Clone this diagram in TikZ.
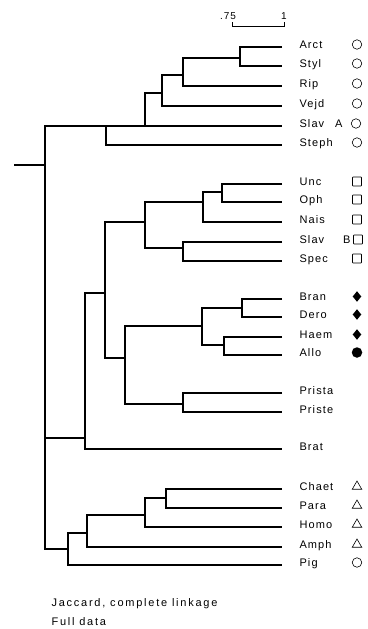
\documentclass[tikz,border=0pt]{standalone}
\usepackage{fontspec}
\setmainfont[LetterSpace=10]{Liberation Sans}
\newfontfamily\capfont[LetterSpace=16]{Liberation Sans}
\usetikzlibrary{shapes.geometric}
\begin{document}
\begin{tikzpicture}[x=1pt,y=-1pt,line width=1.1pt,
  lab/.style={anchor=base west,inner sep=0pt,font=\fontsize{11}{13}\selectfont},
  caplab/.style={anchor=base west,inner sep=0pt,font=\capfont\fontsize{11}{13}\selectfont},
  circ/.style={circle,draw,line width=0.6pt,minimum size=9.5pt,inner sep=0pt},
  sq/.style={rectangle,draw,line width=0.7pt,minimum size=9pt,inner sep=0pt,rounded corners=0.6pt},
  dia/.style={diamond,fill,minimum width=9pt,minimum height=11pt,inner sep=0pt},
  fdot/.style={circle,fill,minimum size=10.5pt,inner sep=0pt},
  tri/.style={regular polygon,regular polygon sides=3,draw,line width=0.6pt,minimum size=11pt,inner sep=0pt},
  scl/.style={anchor=center,inner sep=0pt,font=\fontsize{10}{12}\selectfont}]
\useasboundingbox (0,0) rectangle (367,629);
% leaves with symbols
\foreach \n/\y/\t/\s in {Arct/47/Arct/circ,Styl/66/Styl/circ,Rip/86/Rip/circ,Vejd/106/Vejd/circ,
  Steph/145/Steph/circ,Unc/184/Unc/sq,Oph/202/Oph/sq,Nais/222/Nais/sq,Spec/261/Spec/sq,
  Bran/299/Bran/dia,Dero/317/Dero/dia,Haem/337/Haem/dia,Allo/355/Allo/fdot,
  Chaet/489/Chaet/tri,Para/508/Para/tri,Homo/527/Homo/tri,Amph/547/Amph/tri,Pig/565/Pig/circ}{
  \coordinate (\n) at (282,\y);
  \node[lab] (t\n) at (299,{\y+1}) {\t};
  \node[\s] (s\n) at (357,{\y-2.5}) {};
}
% leaves without symbols
\foreach \n/\y in {Prista/393,Priste/412,Brat/449}{
  \coordinate (\n) at (282,\y);
  \node[lab] (t\n) at (299,{\y+1}) {\n};
}
% special labels
\coordinate (SlavA) at (282,126);
\node[lab] (tSlavA) at (299,127) {Slav\hspace{11pt}A};
\node[circ] (sSlavA) at (356,123.5) {};
\coordinate (SlavB) at (282,242);
\node[lab] (tSlavB) at (299,243) {Slav\hspace{19pt}B};
\node[sq] (sSlavB) at (358,239.5) {};
% internal nodes
\coordinate (n1) at (240,58);
\coordinate (n2) at (183,75);
\coordinate (n3) at (162,93);
\coordinate (n4) at (145,126);
\coordinate (n5) at (106,126);
\coordinate (s1) at (222,192);
\coordinate (s2) at (203,202);
\coordinate (s3) at (183,248);
\coordinate (s4) at (145,222);
\coordinate (d1) at (242,308);
\coordinate (d2) at (224,345);
\coordinate (d3) at (202,326);
\coordinate (p1) at (183,404);
\coordinate (d4) at (125,358);
\coordinate (m1) at (105,293);
\coordinate (m2) at (85,438);
\coordinate (t1) at (166,498);
\coordinate (t2) at (145,515);
\coordinate (t3) at (87,533);
\coordinate (t4) at (68,549);
\coordinate (root) at (45,165);
\coordinate (stub) at (14,165);
% tree
\draw (Arct) -| (n1) |- (Styl);
\draw (n1) -| (n2) |- (Rip);
\draw (n2) -| (n3) |- (Vejd);
\draw (n3) -| (n4) |- (SlavA);
\draw (n4) -| (n5) |- (Steph);
\draw (Unc) -| (s1) |- (Oph);
\draw (s1) -| (s2) |- (Nais);
\draw (SlavB) -| (s3) |- (Spec);
\draw (s2) -| (s4) |- (s3);
\draw (Bran) -| (d1) |- (Dero);
\draw (Haem) -| (d2) |- (Allo);
\draw (d1) -| (d3) |- (d2);
\draw (Prista) -| (p1) |- (Priste);
\draw (d3) -| (d4) |- (p1);
\draw (s4) -| (m1) |- (d4);
\draw (m1) -| (m2) |- (Brat);
\draw (Chaet) -| (t1) |- (Para);
\draw (t1) -| (t2) |- (Homo);
\draw (t2) -| (t3) |- (Amph);
\draw (t3) -| (t4) |- (Pig);
\draw (n5) -| (root) |- (t4);
\draw (m2) -| (root);
\draw (stub) -- (root);
% scale bar
\node[scl] (l75) at (228,16) {.75};
\node[scl] (l1) at (284,16) {1};
\coordinate (bl) at (232,22);
\coordinate (blb) at (232,26.5);
\coordinate (br) at (284,22);
\draw[line width=0.9pt] (bl) -- (blb) -| (br);
% caption
\node[caplab] (cap1) at (51,606) {Jaccard, complete linkage};
\node[caplab] (cap2) at (51,625) {Full data};
\end{tikzpicture}
\end{document}
